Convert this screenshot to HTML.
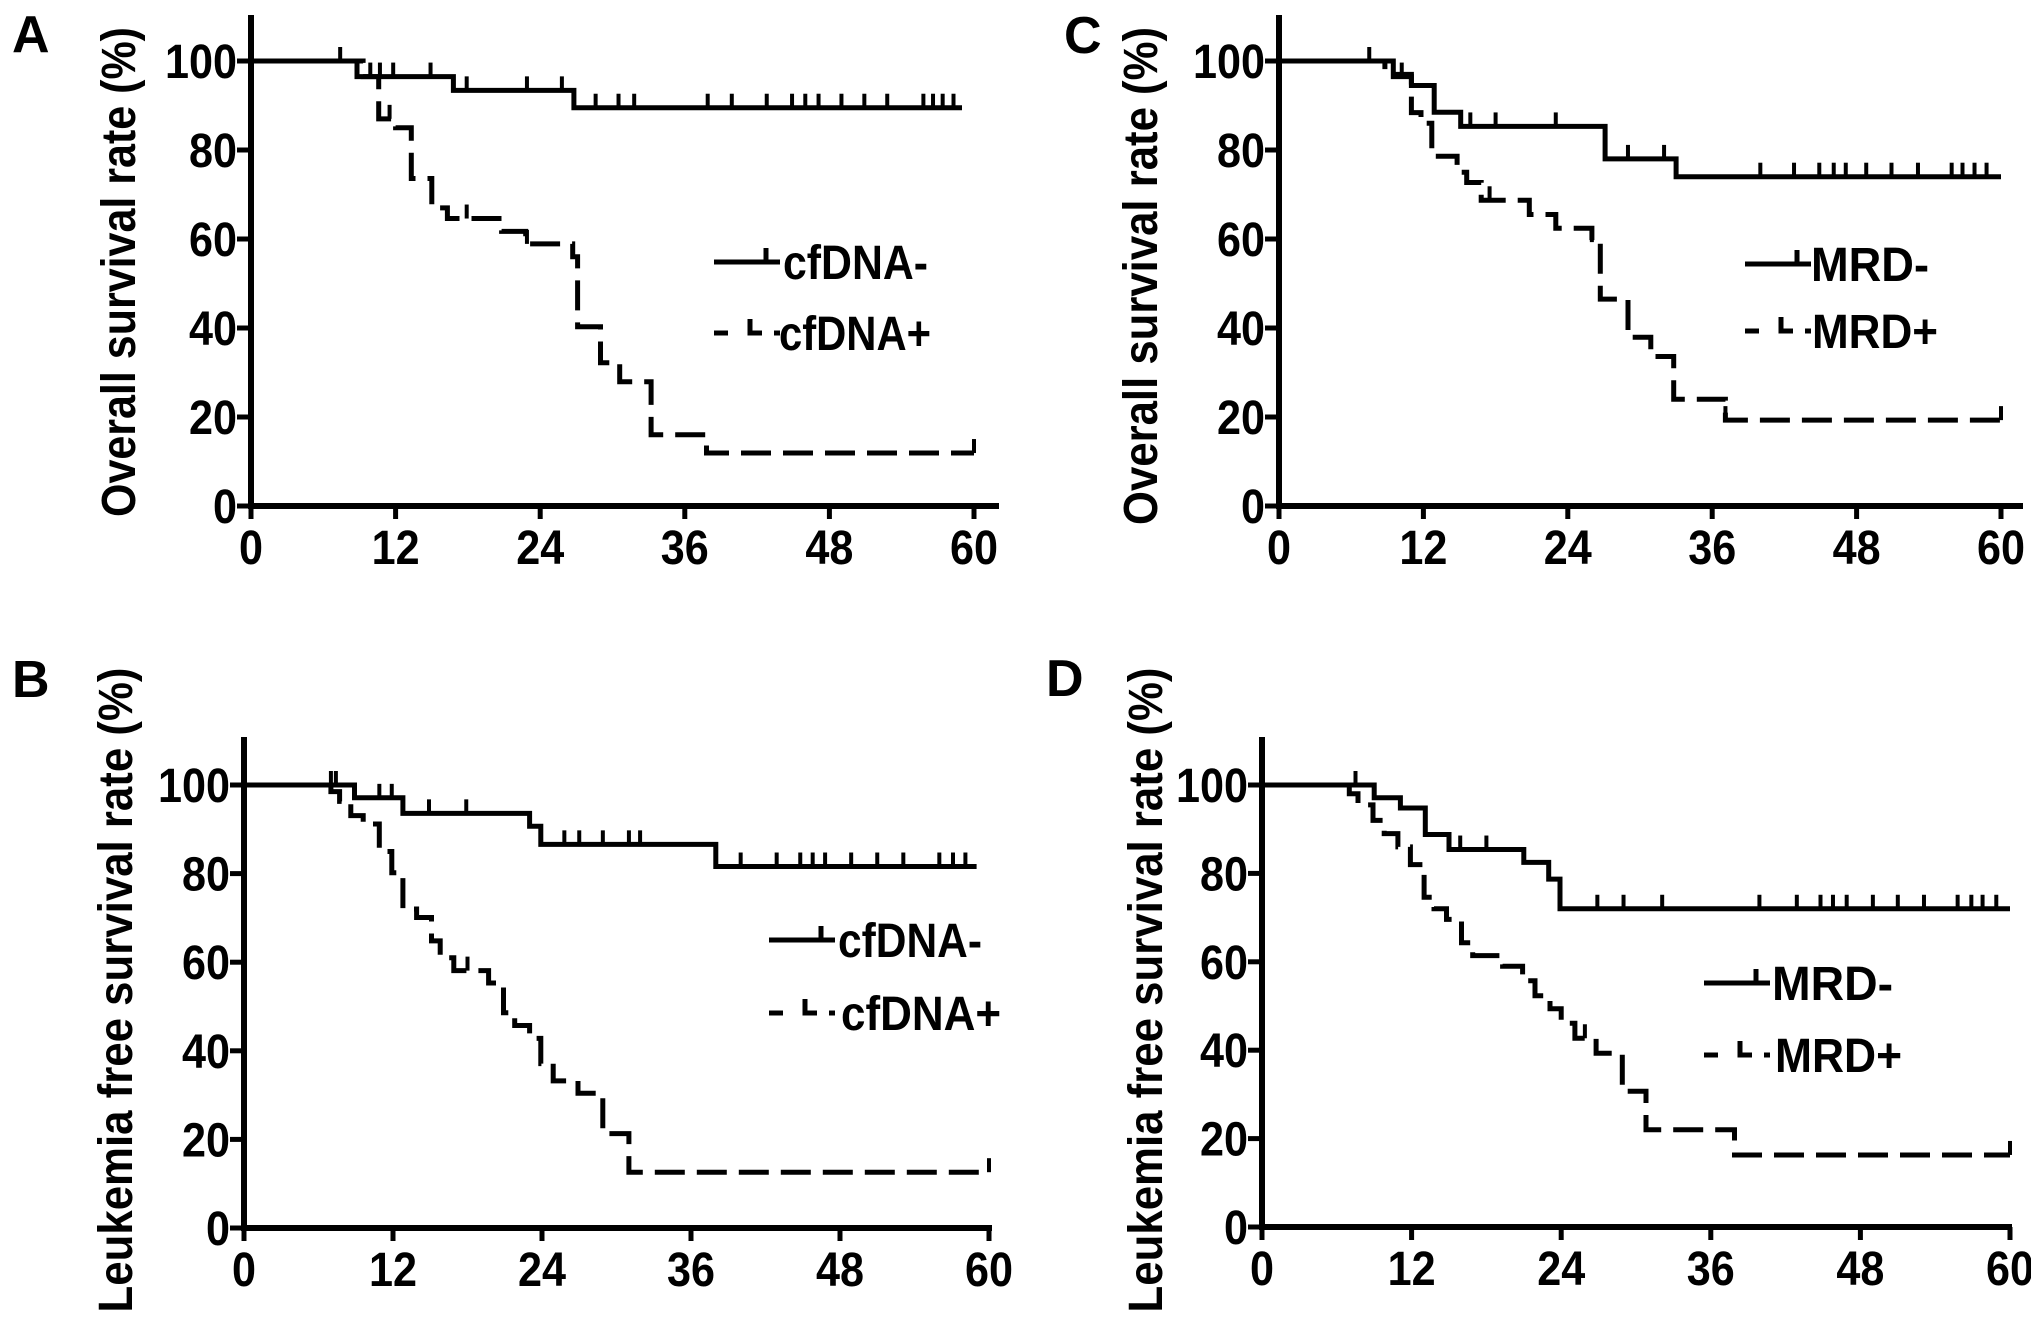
<!DOCTYPE html>
<html><head><meta charset="utf-8"><style>
html,body{margin:0;padding:0;background:#fff;}
svg{display:block;}
text{font-family:"Liberation Sans",Arial,sans-serif;font-weight:bold;fill:#000;}
</style></head><body>
<svg id="fig" width="2031" height="1331" viewBox="0 0 2031 1331" xmlns="http://www.w3.org/2000/svg">
<rect width="2031" height="1331" fill="#fff"/>
</svg>
<script>
// ---- data (months, survival %) ----
const xTicks = [0, 12, 24, 36, 48, 60];
const yTicks = [0, 20, 40, 60, 80, 100];
// Panel A: overall survival, cfDNA
const aNegT = [8.8, 16.8, 26.8];
const aNegS = [96.5, 93.4, 89.5];
const aNegC = [7.4, 9.9, 10.7, 11.8, 14.9, 17.9, 22.9, 25.8, 28.6, 30.5, 31.8, 37.9, 39.9, 42.8, 44.9, 46, 47.1, 49, 50.9, 52.8, 55.8, 56.6, 57.4, 58.3];
const aPosT = [9.3, 10.6, 12, 13.3, 15, 16.3, 20.8, 22.8, 26.7, 27.1, 29, 30.6, 33.2, 37.8];
const aPosS = [96.5, 87, 85, 73.6, 67, 64.6, 61.7, 58.9, 56, 40.3, 32.2, 27.9, 16, 11.9];
const aPosC = [11.5, 17.9, 22.9, 60];
// Panel B: leukemia free survival, cfDNA
const bNegT = [8.9, 12.8, 23, 23.9, 38];
const bNegS = [97.1, 93.6, 90.7, 86.6, 81.6];
const bNegC = [7, 7.4, 10.9, 11.9, 14.9, 17.9, 25.8, 27, 28.9, 31, 31.9, 40, 42.9, 44.8, 45.8, 46.8, 48.9, 51, 53.1, 56, 57.1, 58.1];
const bPosT = [7, 7.7, 8.6, 9.6, 10.9, 11.9, 12.8, 13.9, 15.1, 15.8, 16.9, 19.7, 20.9, 21.8, 23, 23.9, 24.9, 26.9, 28.9, 31];
const bPosS = [98.5, 96.3, 93.1, 91.2, 85, 80.2, 72, 70.1, 64.8, 61, 58.1, 55.3, 48.6, 45.7, 42.8, 37.1, 33.2, 30.4, 21.3, 12.6];
const bPosC = [18, 60];
// Panel C: overall survival, MRD
const cNegT = [9.5, 11, 12.9, 15.1, 27.1, 33];
const cNegS = [96.5, 94.5, 88.5, 85.3, 78, 74];
const cNegC = [7.5, 10.2, 15.9, 18, 23, 29, 32, 40, 42.8, 44.9, 46.1, 47.1, 48.8, 50.9, 53.1, 55.9, 56.8, 57.8, 58.8];
const cPosT = [8.8, 11, 11.8, 12.7, 14.8, 15.6, 16.8, 20.8, 23, 26, 26.7, 29, 30.9, 32.8, 37.1];
const cPosS = [97, 88.4, 86, 78.6, 75, 72.7, 68.7, 65.5, 62.4, 59.3, 46.5, 37.9, 33.6, 24, 19.3];
const cPosC = [17.5, 26, 37.1, 60];
// Panel D: leukemia free survival, MRD
const dNegT = [9, 11.1, 13.1, 15, 21, 23, 23.9];
const dNegS = [97.1, 94.8, 88.8, 85.4, 82.5, 78.7, 72];
const dNegC = [7.5, 15.9, 18, 26.9, 29, 32.1, 39.9, 42.9, 44.8, 45.8, 46.9, 49, 51, 53.1, 55.8, 56.9, 57.8, 58.9];
const dPosT = [7, 7.7, 8.9, 9.8, 10.9, 11.9, 13, 13.8, 14.8, 16, 16.9, 19.3, 20.9, 21.9, 23.1, 24, 25.1, 26.8, 28.9, 30.8, 37.9];
const dPosS = [98, 95.5, 92, 89, 86, 82, 74.6, 72, 69.6, 64.3, 61.4, 59, 55.7, 52.3, 49.4, 46.1, 42.7, 39.3, 30.7, 22, 16.3];
const dPosC = [25.9, 60];

const svg = document.getElementById('fig');
const NS = 'http://www.w3.org/2000/svg';
function mk(tag, attrs, parent) {
  const e = document.createElementNS(NS, tag);
  for (const k in attrs) e.setAttribute(k, attrs[k]);
  (parent || svg).appendChild(e);
  return e;
}

const panels = [
  {id:'a', letter:'A', lx:12, ly:52, x0:251, x60:974, y100:61, y0:506, top:15, right:999,
   ylab:'Overall survival rate (%)', ylx:118, yly:272, yll:490,
   neg:[aNegT,aNegS,aNegC,59], pos:[aPosT,aPosS,aPosC,60],
   names:['cfDNA-','cfDNA+'], leg:{x:714, y1:262, y2:333, tx:783, tw:145, tx2:779, tw2:152}},
  {id:'b', letter:'B', lx:12, ly:697, x0:244, x60:989, y100:785, y0:1228, top:737, right:992,
   ylab:'Leukemia free survival rate (%)', ylx:115, yly:990, yll:645,
   neg:[bNegT,bNegS,bNegC,59], pos:[bPosT,bPosS,bPosC,60],
   names:['cfDNA-','cfDNA+'], leg:{x:769, y1:940, y2:1013, tx:838, tw:144, tx2:841, tw2:160}},
  {id:'c', letter:'C', lx:1064, ly:53, x0:1279, x60:2001, y100:61, y0:506, top:15, right:2023,
   ylab:'Overall survival rate (%)', ylx:1140, yly:276, yll:498,
   neg:[cNegT,cNegS,cNegC,60], pos:[cPosT,cPosS,cPosC,60],
   names:['MRD-','MRD+'], leg:{x:1745, y1:264, y2:331, tx:1811, tw:118, tx2:1812, tw2:126}},
  {id:'d', letter:'D', lx:1046, ly:696, x0:1262, x60:2010, y100:785, y0:1227, top:737, right:2012,
   ylab:'Leukemia free survival rate (%)', ylx:1145, yly:990, yll:645,
   neg:[dNegT,dNegS,dNegC,60], pos:[dPosT,dPosS,dPosC,60],
   names:['MRD-','MRD+'], leg:{x:1704, y1:983, y2:1055, tx:1772, tw:121, tx2:1775, tw2:127}}
];

function stepPath(T, S, end, X, Y) {
  let d = 'M' + X(0) + ',' + Y(100);
  for (let i = 0; i < T.length; i++) {
    d += ' H' + X(T[i]).toFixed(1) + ' V' + Y(S[i]).toFixed(1);
  }
  d += ' H' + X(end).toFixed(1);
  return d;
}
function valueAt(T, S, t) {
  let v = 100;
  for (let i = 0; i < T.length; i++) if (T[i] <= t) v = S[i];
  return v;
}

panels.forEach(p => {
  const X = t => p.x0 + (p.x60 - p.x0) * t / 60;
  const Y = v => p.y0 - (p.y0 - p.y100) * v / 100;
  const g = mk('g', {});
  
  

  const lt = mk('text', {x:p.lx, y:p.ly, 'font-size':52}, g);
  
  
  lt.textContent = p.letter;

  const ax = mk('path', {d:'M'+p.x0+','+p.top+' V'+p.y0+' H'+p.right, fill:'none', stroke:'#000', 'stroke-width':6}, g);
  
  

  yTicks.forEach(v => {
    const tk = mk('line', {x1:p.x0-14, x2:p.x0, y1:Y(v), y2:Y(v), stroke:'#000', 'stroke-width':5}, g);
    
    
    const s = String(v);
    const tl = mk('text', {x:p.x0-14, y:Y(v)+17, 'font-size':48, 'text-anchor':'end', textLength:s.length*24, lengthAdjust:'spacingAndGlyphs'}, g);
    
    
    tl.textContent = s;
  });
  xTicks.forEach(t => {
    const tk = mk('line', {x1:X(t), x2:X(t), y1:p.y0, y2:p.y0+13, stroke:'#000', 'stroke-width':5}, g);
    
    
    const s = String(t);
    const tl = mk('text', {x:X(t), y:p.y0+58, 'font-size':48, 'text-anchor':'middle', textLength:s.length*24, lengthAdjust:'spacingAndGlyphs'}, g);
    
    
    tl.textContent = s;
  });

  const yl = mk('text', {x:0, y:0, 'font-size':48, 'text-anchor':'middle', textLength:p.yll, lengthAdjust:'spacingAndGlyphs',
    transform:'translate('+(p.ylx+17)+','+p.yly+') rotate(-90)'}, g);
  
  
  yl.textContent = p.ylab;

  [[p.neg, 'none', 'negative'], [p.pos, '30 12', 'positive']].forEach(([s, dash, nm]) => {
    const [T, S, C, end] = s;
    const ln = mk('path', {d:stepPath(T, S, end, X, Y), fill:'none', stroke:'#000', 'stroke-width':5, 'stroke-dasharray':dash}, g);
    
    
    C.forEach(c => {
      const v = valueAt(T, S, c);
      const cm = mk('line', {x1:X(c), x2:X(c), y1:Y(v), y2:Y(v)-14, stroke:'#000', 'stroke-width':4}, g);
      
      
    });
  });

  const L = p.leg;
  const lg = mk('g', {}, g);
  
  
  const l1 = mk('path', {d:'M'+L.x+','+L.y1+' H'+(L.x+66)+' M'+(L.x+52)+','+L.y1+' V'+(L.y1-14), fill:'none', stroke:'#000', 'stroke-width':5}, lg);
  
  
  const t1 = mk('text', {x:L.tx, y:L.y1+17, 'font-size':48, textLength:L.tw, lengthAdjust:'spacingAndGlyphs'}, lg);
  
  
  t1.textContent = p.names[0];
  const l2 = mk('path', {d:'M'+L.x+','+L.y2+' H'+(L.x+14)+' M'+(L.x+36)+','+(L.y2-14)+' V'+L.y2+' H'+(L.x+48)+' M'+(L.x+60)+','+L.y2+' H'+(L.x+66), fill:'none', stroke:'#000', 'stroke-width':5}, lg);
  
  
  const t2 = mk('text', {x:L.tx2, y:L.y2+17, 'font-size':48, textLength:L.tw2, lengthAdjust:'spacingAndGlyphs'}, lg);
  
  
  t2.textContent = p.names[1];
});
</script>
</body></html>
